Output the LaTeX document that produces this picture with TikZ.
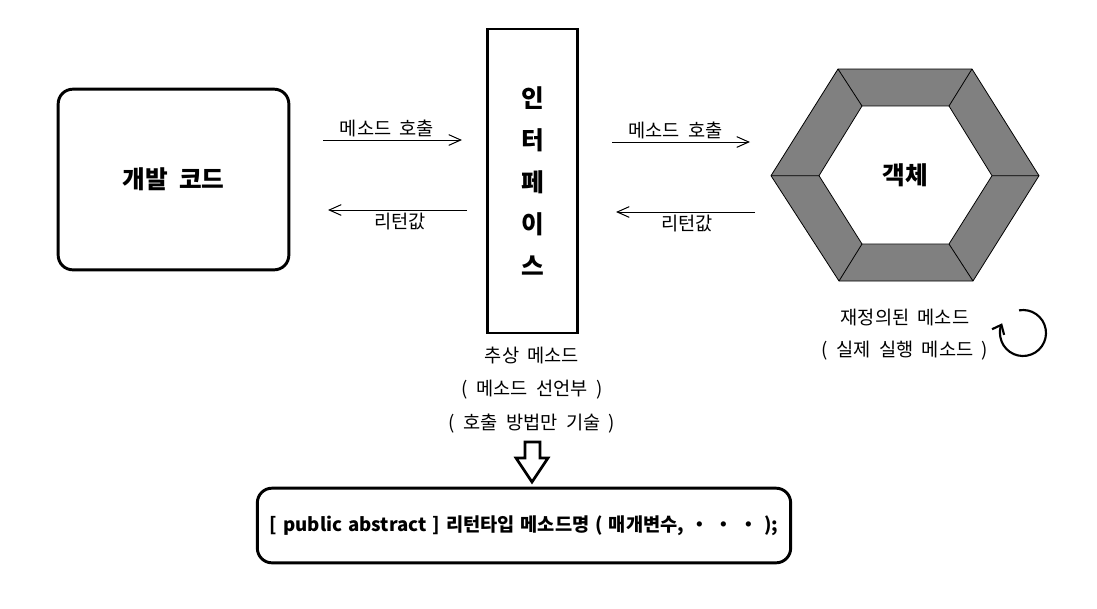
\documentclass[tikz,border=0pt]{standalone}
\usepackage{fontspec}
\setmainfont[WordSpace=2]{Noto Sans CJK KR}
\newfontfamily\declfont[WordSpace=1.4]{Noto Sans CJK KR}
\usetikzlibrary{arrows.meta}
\begin{document}
\begin{tikzpicture}[x=0.75pt,y=-0.75pt,
  lbl/.style={font=\fontsize{14}{16}\selectfont, inner sep=1pt},
  bigtxt/.style={font=\fontsize{18.5}{20}\selectfont\bfseries},
  arr/.style={line width=0.75pt, -{Straight Barb[length=9pt,width=8pt,line width=0.75pt]}},
  thickbox/.style={draw, line width=2.2pt},
  hexline/.style={line width=0.6pt},
]
\useasboundingbox (0,0) rectangle (1097,608);
\fill[white] (0,0) rectangle (1097,608);

% left box
\node[thickbox, rounded corners=11pt, minimum width=173pt, minimum height=135.5pt, bigtxt] (code) at (173.5,179.5) {개발 코드};

% interface
\node[thickbox, minimum width=68pt, minimum height=228pt, align=center,
      font=\fontsize{18.5}{31.5}\selectfont\bfseries] (iface) at (532.5,181) {인\\터\\페\\이\\스};

% hexagon object
\fill[black!50] (838,69) -- (972,69) -- (1039,175.7) -- (973,281) -- (839,281) -- (771,175.7) -- cycle;
\fill[white] (862,106) -- (949,106) -- (992,175.7) -- (949,244) -- (862,244) -- (819,175.7) -- cycle;
\draw[hexline] (838,69) -- (972,69) -- (1039,175.7) -- (973,281) -- (839,281) -- (771,175.7) -- cycle;
\draw[hexline] (862,106) -- (949,106) -- (992,175.7) -- (949,244) -- (862,244) -- (819,175.7) -- cycle;
\draw[hexline] (838,69) -- (862,106) (972,69) -- (949,106) (1039,175.7) -- (992,175.7)
  (973,281) -- (949,244) (839,281) -- (862,244) (771,175.7) -- (819,175.7);
\node[bigtxt] (obj) at (905,175) {객체};

% arrow end points
\coordinate (a1s) at (323,140); \coordinate (a1e) at (462,140);
\coordinate (a2s) at (467,210); \coordinate (a2e) at (328,210);
\coordinate (a3s) at (612,142); \coordinate (a3e) at (750,142);
\coordinate (a4s) at (755,212); \coordinate (a4e) at (616,212);

\draw[arr] (a1s) -- (a1e) node[lbl, pos=0.46, above=1pt] (l1) {메소드 호출};
\draw[arr] (a2s) -- (a2e) node[lbl, pos=0.48, below=1pt] (l2) {리턴값};
\draw[arr] (a3s) -- (a3e) node[lbl, pos=0.46, above=1pt] (l3) {메소드 호출};
\draw[arr] (a4s) -- (a4e) node[lbl, pos=0.49, below=1pt] (l4) {리턴값};

% labels under interface
\node[lbl] (ab1) at (532,356) {추상 메소드};
\node[lbl] (ab2) at (532,390) {( 메소드 선언부 )};
\node[lbl] (ab3) at (532,424) {( 호출 방법만 기술 )};

% labels under object
\node[lbl] (ov1) at (905,318) {재정의된 메소드};
\node[lbl] (ov2) at (905,351) {( 실제 실행 메소드 )};

% circular arrow
\coordinate (cc) at (1023,333);
\draw[line width=1.6pt, -{Straight Barb[length=6pt,width=10pt,line width=1.6pt]}]
  ([shift={(-100:23)}]cc) arc[start angle=-100, end angle=205, radius=23];

% hollow down arrow
\draw[line width=2pt, line join=miter] (525,442) -- (540,442) -- (540,458) -- (548,458) -- (532,482) -- (516,458) -- (525,458) -- cycle;

% declaration box
\node[thickbox, rounded corners=11pt, minimum width=400pt, minimum height=56pt,
      font=\declfont\fontsize{14}{16}\selectfont\bfseries] (decl) at (524,525.5)
  {[ public abstract ] 리턴타입 메소드명 ( 매개변수, ・ ・ ・ );};
\end{tikzpicture}
\end{document}
